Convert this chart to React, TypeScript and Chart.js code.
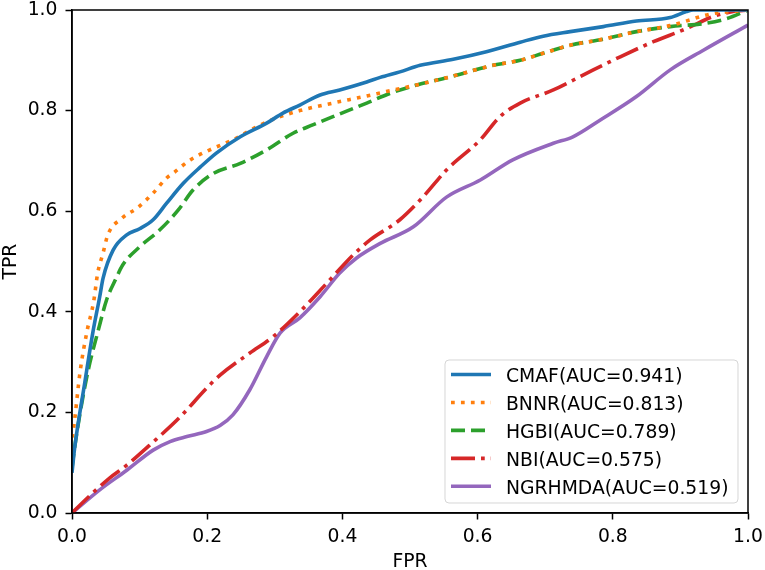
import { useEffect, useRef } from "react";
import { Chart, registerables } from "chart.js";

Chart.register(...registerables);

const FONT = "'DejaVu Sans', sans-serif";
const FS = 18.75;

const xTickValues = [0, 0.2, 0.4, 0.6, 0.8, 1.0];

const seriesLabels = [
  "CMAF(AUC=0.941)",
  "BNNR(AUC=0.813)",
  "HGBI(AUC=0.789)",
  "NBI(AUC=0.575)",
  "NGRHMDA(AUC=0.519)",
];
const seriesColors = ["#1f77b4", "#ff7f0e", "#2ca02c", "#d62728", "#9467bd"];

const cmafFpr = [0, 0.004, 0.019, 0.031, 0.041, 0.046, 0.061, 0.081, 0.1, 0.12, 0.14, 0.165, 0.19, 0.214, 0.249, 0.288, 0.312, 0.337, 0.367, 0.396, 0.436, 0.456, 0.485, 0.515, 0.564, 0.613, 0.663, 0.697, 0.737, 0.786, 0.835, 0.885, 0.909, 0.919, 1.0];
const cmafTpr = [0.08, 0.13, 0.26, 0.36, 0.43, 0.467, 0.523, 0.553, 0.565, 0.583, 0.616, 0.656, 0.688, 0.716, 0.748, 0.775, 0.795, 0.811, 0.831, 0.841, 0.857, 0.866, 0.877, 0.89, 0.902, 0.917, 0.936, 0.948, 0.957, 0.967, 0.978, 0.985, 0.997, 1.0, 1.0];

const bnnrFpr = [0, 0.002, 0.012, 0.022, 0.032, 0.038, 0.046, 0.053, 0.074, 0.098, 0.12, 0.14, 0.152, 0.175, 0.204, 0.238, 0.278, 0.308, 0.337, 0.386, 0.436, 0.465, 0.51, 0.559, 0.623, 0.663, 0.697, 0.737, 0.786, 0.835, 0.885, 0.948, 0.977, 1.0];
const bnnrTpr = [0.15, 0.165, 0.281, 0.36, 0.42, 0.477, 0.517, 0.553, 0.586, 0.608, 0.636, 0.666, 0.678, 0.702, 0.722, 0.742, 0.771, 0.788, 0.8, 0.815, 0.829, 0.838, 0.851, 0.867, 0.89, 0.9, 0.914, 0.93, 0.942, 0.957, 0.969, 0.993, 0.997, 1.0];

const hgbiFpr = [0, 0.002, 0.012, 0.024, 0.039, 0.051, 0.064, 0.075, 0.1, 0.13, 0.157, 0.179, 0.209, 0.249, 0.288, 0.327, 0.357, 0.386, 0.436, 0.47, 0.51, 0.559, 0.623, 0.663, 0.697, 0.737, 0.786, 0.835, 0.885, 0.934, 0.969, 1.0];
const hgbiTpr = [0.09, 0.112, 0.199, 0.284, 0.364, 0.423, 0.463, 0.493, 0.529, 0.563, 0.602, 0.642, 0.675, 0.695, 0.722, 0.755, 0.772, 0.788, 0.815, 0.834, 0.851, 0.867, 0.89, 0.9, 0.914, 0.93, 0.942, 0.957, 0.967, 0.973, 0.983, 1.0];

const nbiFpr = [0, 0.012, 0.034, 0.056, 0.081, 0.115, 0.16, 0.199, 0.219, 0.263, 0.297, 0.337, 0.377, 0.416, 0.441, 0.485, 0.519, 0.554, 0.604, 0.633, 0.663, 0.712, 0.761, 0.811, 0.86, 0.909, 0.948, 0.978, 1.0];
const nbiTpr = [0, 0.016, 0.044, 0.07, 0.095, 0.135, 0.191, 0.248, 0.274, 0.318, 0.35, 0.4, 0.457, 0.513, 0.543, 0.583, 0.628, 0.682, 0.742, 0.788, 0.815, 0.841, 0.874, 0.907, 0.937, 0.963, 0.987, 0.997, 1.0];

const ngrFpr = [0, 0.041, 0.081, 0.12, 0.145, 0.17, 0.199, 0.219, 0.238, 0.263, 0.288, 0.308, 0.337, 0.367, 0.396, 0.421, 0.456, 0.505, 0.554, 0.604, 0.652, 0.712, 0.741, 0.781, 0.835, 0.885, 0.934, 1.0];
const ngrTpr = [0, 0.046, 0.085, 0.125, 0.142, 0.152, 0.162, 0.174, 0.195, 0.245, 0.311, 0.358, 0.388, 0.43, 0.477, 0.507, 0.536, 0.569, 0.628, 0.662, 0.702, 0.735, 0.748, 0.781, 0.828, 0.881, 0.92, 0.97];

const LW = 3.6;
const dashes: number[][] = [
  [],
  [3.75, 6.2],
  [14, 6],
  [24, 6, 3.75, 6],
  [],
];

function pts(xs: number[], ys: number[]) {
  return xs.map((x, i) => ({ x, y: ys[i] }));
}

const framePlugin = {
  id: "frame",
  afterDatasetsDraw(chart: any) {
    const { ctx, chartArea } = chart;
    ctx.save();
    ctx.strokeStyle = "#000";
    ctx.lineWidth = 1.5;
    ctx.strokeRect(chartArea.left, chartArea.top, chartArea.right - chartArea.left, chartArea.bottom - chartArea.top);
    ctx.restore();
  },
};

const legendPlugin = {
  id: "mplLegend",
  afterDraw(chart: any) {
    const { ctx, chartArea } = chart;
    const w = 293;
    const h = 143;
    const right = chartArea.right - 10;
    const bottom = chartArea.bottom - 10;
    const left = right - w;
    const top = bottom - h;
    ctx.save();
    ctx.beginPath();
    const r = 4;
    ctx.moveTo(left + r, top);
    ctx.lineTo(right - r, top);
    ctx.arcTo(right, top, right, top + r, r);
    ctx.lineTo(right, bottom - r);
    ctx.arcTo(right, bottom, right - r, bottom, r);
    ctx.lineTo(left + r, bottom);
    ctx.arcTo(left, bottom, left, bottom - r, r);
    ctx.lineTo(left, top + r);
    ctx.arcTo(left, top, left + r, top, r);
    ctx.closePath();
    ctx.fillStyle = "rgba(255,255,255,0.8)";
    ctx.fill();
    ctx.strokeStyle = "rgba(204,204,204,0.8)";
    ctx.lineWidth = 1;
    ctx.stroke();

    ctx.font = `${FS}px ${FONT}`;
    ctx.textAlign = "left";
    ctx.textBaseline = "alphabetic";
    chart.data.datasets.forEach((ds: any, i: number) => {
      const cy = top + 14.5 + i * 27.95;
      ctx.beginPath();
      ctx.setLineDash(ds.borderDash || []);
      ctx.lineCap = "butt";
      ctx.strokeStyle = ds.borderColor;
      ctx.lineWidth = LW;
      ctx.moveTo(left + 6, cy);
      ctx.lineTo(left + 46, cy);
      ctx.stroke();
      ctx.setLineDash([]);
      ctx.fillStyle = "#000";
      ctx.fillText(ds.label, left + 61, cy + 0.729 * FS / 2 + 1);
    });
    ctx.restore();
  },
};

export default function App() {
  const ref = useRef<HTMLCanvasElement>(null);
  useEffect(() => {
    document.body.style.margin = "0";
    const series = [
      pts(cmafFpr, cmafTpr),
      pts(bnnrFpr, bnnrTpr),
      pts(hgbiFpr, hgbiTpr),
      pts(nbiFpr, nbiTpr),
      pts(ngrFpr, ngrTpr),
    ];
    const chart = new Chart(ref.current!, {
      type: "line",
      data: {
        datasets: series.map((d, i) => ({
          label: seriesLabels[i],
          data: d,
          borderColor: seriesColors[i],
          backgroundColor: seriesColors[i],
          borderWidth: LW,
          borderDash: dashes[i],
          borderCapStyle: "butt",
          pointRadius: 0,
          fill: false,
          cubicInterpolationMode: "monotone",
          clip: 0,
        })),
      },
      options: {
        animation: false,
        responsive: false,
        maintainAspectRatio: false,
        layout: { padding: { left: 0, top: 10, right: 17, bottom: 0 } },
        plugins: {
          legend: { display: false },
          tooltip: { enabled: false },
        },
        scales: {
          x: {
            type: "linear",
            min: 0,
            max: 1,
            afterFit: (s: any) => {
              s.height = 57;
              s.paddingLeft = 0;
              s.paddingRight = 0;
            },
            afterBuildTicks: (s: any) => {
              s.ticks = xTickValues.map((v) => ({ value: v }));
            },
            ticks: {
              callback: (v: any) => Number(v).toFixed(1),
              font: { family: FONT, size: FS, lineHeight: 1 },
              color: "#000",
              padding: 8,
              maxRotation: 0,
            },
            grid: {
              drawOnChartArea: false,
              drawTicks: true,
              tickLength: 6.5,
              tickWidth: 1.5,
              tickColor: "#000",
            },
            border: { display: true, color: "#000", width: 1.5 },
            title: {
              display: true,
              text: "FPR",
              color: "#000",
              font: { family: FONT, size: FS, lineHeight: 0.8 },
              padding: { top: 0, bottom: 0 },
            },
          },
          y: {
            type: "linear",
            min: 0,
            max: 1,
            afterFit: (s: any) => {
              s.width = 72;
              s.paddingTop = 0;
              s.paddingBottom = 0;
            },
            afterBuildTicks: (s: any) => {
              s.ticks = xTickValues.map((v) => ({ value: v }));
            },
            ticks: {
              callback: (v: any) => Number(v).toFixed(1),
              font: { family: FONT, size: FS, lineHeight: 1 },
              color: "#000",
              padding: 8,
            },
            grid: {
              drawOnChartArea: false,
              drawTicks: true,
              tickLength: 6.5,
              tickWidth: 1.5,
              tickColor: "#000",
            },
            border: { display: true, color: "#000", width: 1.5 },
            title: {
              display: true,
              text: "TPR",
              color: "#000",
              font: { family: FONT, size: FS, lineHeight: 1 },
              padding: { top: 1.4, bottom: 0 },
            },
          },
        },
      },
      plugins: [framePlugin, legendPlugin],
    } as any);
    return () => chart.destroy();
  }, []);
  return (
    <div style={{ position: "absolute", left: 0, top: 0, width: 765, height: 570, background: "#fff" }}>
      <canvas ref={ref} width={765} height={570} style={{ display: "block", width: 765, height: 570 }} />
    </div>
  );
}
